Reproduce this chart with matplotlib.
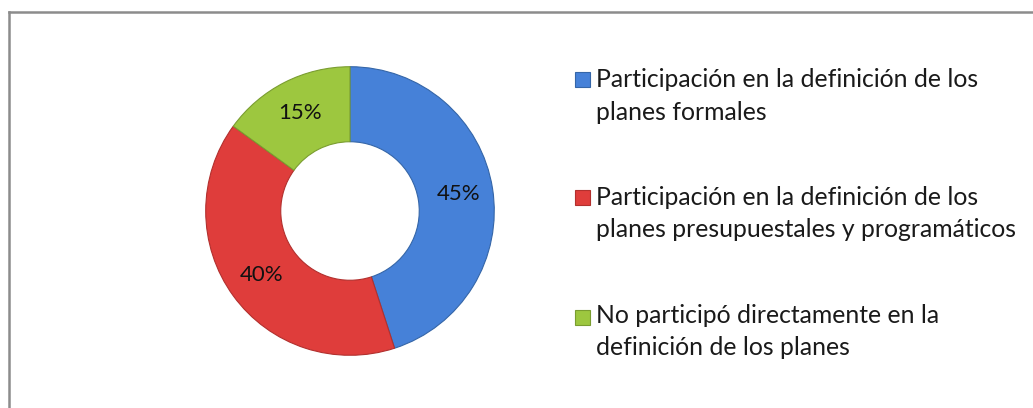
import matplotlib.pyplot as plt
from matplotlib.patches import Rectangle
from matplotlib.lines import Line2D

labels = [
    "Participación en la definición de los\nplanes formales",
    "Participación en la definición de los\nplanes presupuestales y programáticos",
    "No participó directamente en la\ndefinición de los planes",
]
values = [45, 40, 15]
colors = ["#4681d8", "#df3d3b", "#9dc73f"]
edges = ["#3566a8", "#b2302e", "#7a9d30"]

W, H = 1033, 408
plt.rcParams["font.family"] = ["Lato", "DejaVu Sans"]
fig = plt.figure(figsize=(W / 100, H / 100), dpi=100)

# donut, centre (350, 211) px, radius 145 px
cx, cy, r = 350, 211, 145
ax = fig.add_axes([(cx - r) / W, (H - cy - r) / H, 2 * r / W, 2 * r / H])
wedges, texts, autotexts = ax.pie(
    values, colors=colors, startangle=90, counterclock=False,
    autopct="%d%%", pctdistance=0.76,
    wedgeprops=dict(width=0.52, linewidth=0.8),
    textprops=dict(fontsize=16, color="#111111"),
)
for w, ec in zip(wedges, edges):
    w.set_edgecolor(ec)
ax.set_xlim(-1.005, 1.005)
ax.set_ylim(-1.005, 1.005)
ax.set_aspect("equal")

# legend drawn by hand: marker centre y and baselines of the two lines
x_box, x_txt = 575, 596
box_y = [79, 197, 317]
baselines = [(87, 120), (205, 237), (323, 355)]
for lab, col, ec, yb, bl in zip(labels, colors, edges, box_y, baselines):
    fig.patches.append(Rectangle((x_box / W, (H - yb - 7.5) / H), 15 / W, 15 / H,
                                 transform=fig.transFigure, facecolor=col,
                                 edgecolor=ec, linewidth=0.8))
    for line, y in zip(lab.split("\n"), bl):
        fig.text(x_txt / W, (H - y) / H, line, fontsize=17.8, color="#1a1a1a",
                 va="baseline", ha="left")

# frame (cropped: only top and left edges visible)
fig.add_artist(Line2D([9 / W, 1.0], [1 - 12 / H, 1 - 12 / H], color="#8c8c8c", linewidth=1.8))
fig.add_artist(Line2D([9 / W, 9 / W], [0, 1 - 12 / H], color="#8c8c8c", linewidth=1.8))

fig.savefig("out.png", dpi=100, facecolor="white")
